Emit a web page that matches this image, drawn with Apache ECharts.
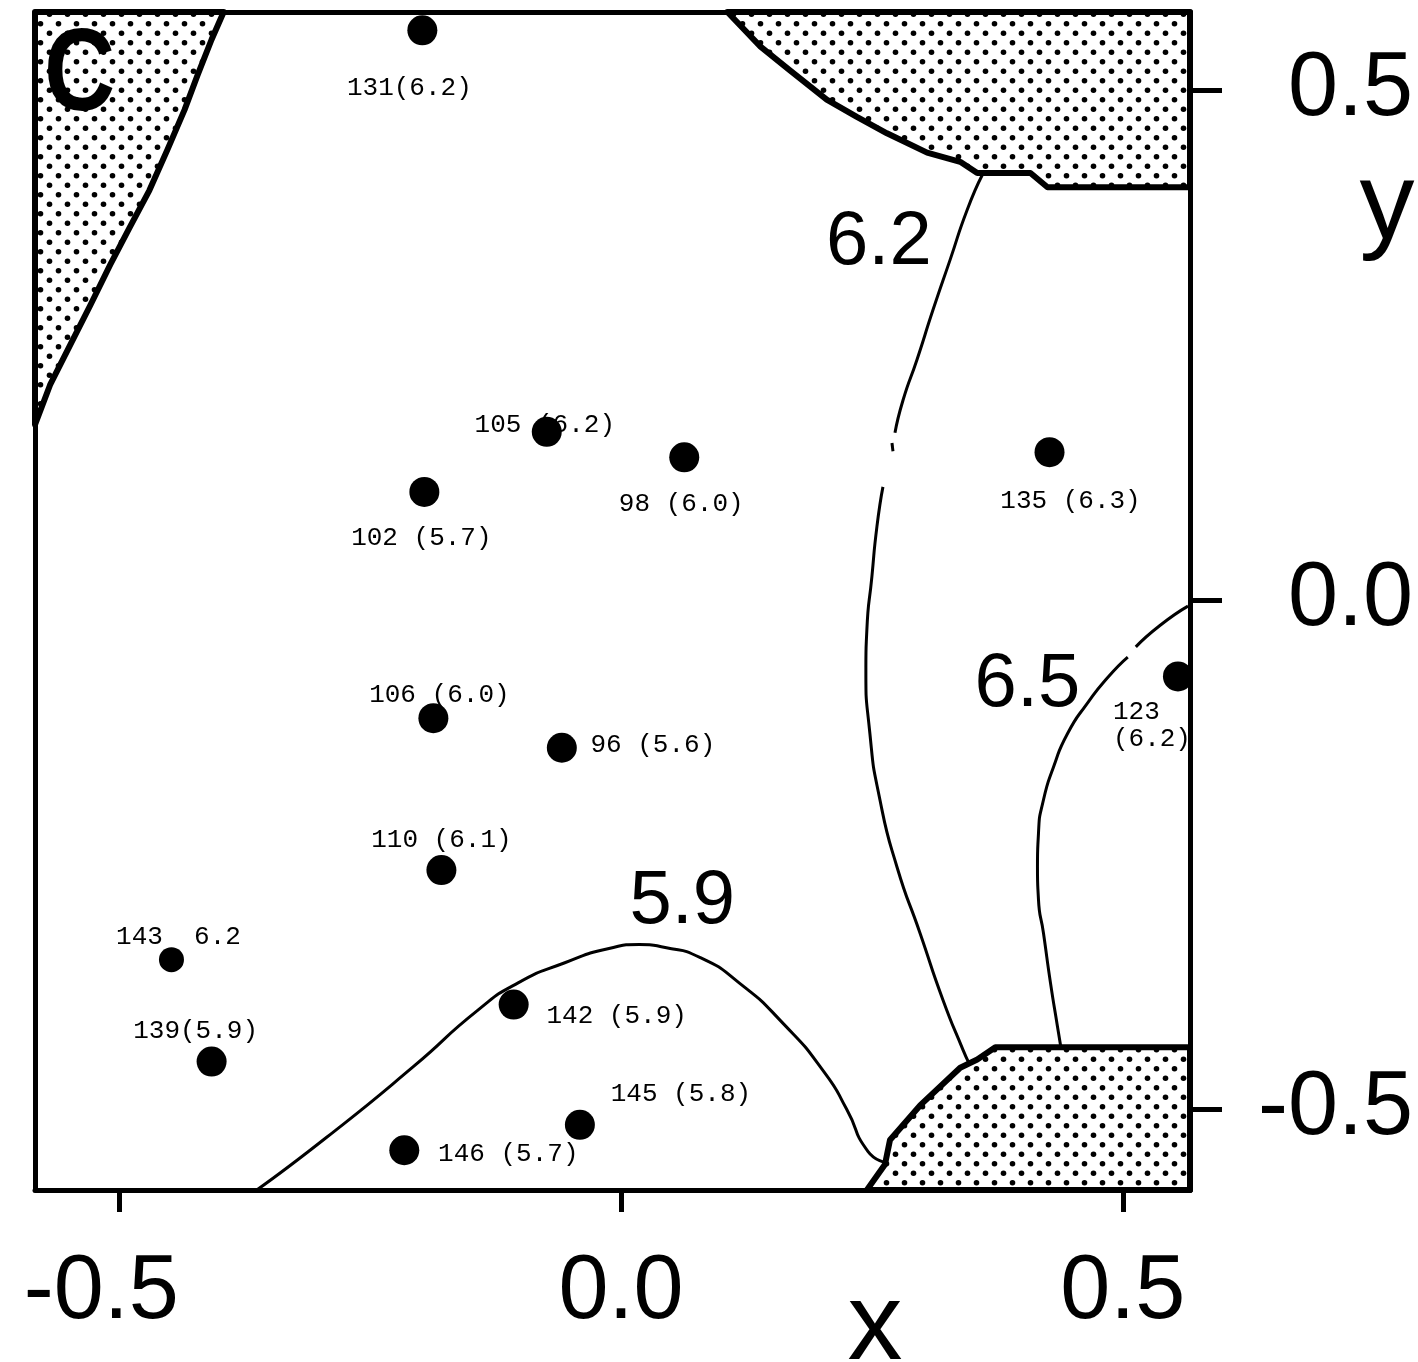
<!DOCTYPE html>
<html><head><meta charset="utf-8">
<script src="https://cdn.jsdelivr.net/npm/echarts@6/dist/echarts.min.js"></script>
<style>html,body{margin:0;padding:0;background:#fff}#c{width:1418px;height:1362px}</style>
</head><body><div id="c"></div><script>
// ---- axes ----
const xRange = [-0.584, 0.567];
const yRange = [-0.579, 0.577];
const xTicks = [-0.5, 0.0, 0.5];
const yTicks = [-0.5, 0.0, 0.5];

// ---- sample points ----
const pointIds = ['131','105','98','102','135','123','106','96','110','143','139','142','145','146'];
const pointValues = [6.2, 6.2, 6.0, 5.7, 6.3, 6.2, 6.0, 5.6, 6.1, 6.2, 5.9, 5.9, 5.8, 5.7];
const pointX = [-0.198, -0.074, 0.063, -0.196, 0.427, 0.555, -0.187, -0.059, -0.179, -0.448, -0.408, -0.107, -0.041, -0.216];
const pointY = [0.559, 0.165, 0.140, 0.106, 0.145, -0.075, -0.116, -0.145, -0.265, -0.353, -0.453, -0.397, -0.515, -0.540];
const pointLabels = ['131(6.2)', '105 (6.2)', '98 (6.0)', '102 (5.7)', '135 (6.3)', '123\n(6.2)', '106 (6.0)', '96 (5.6)', '110 (6.1)', '143  6.2', '139(5.9)', '142 (5.9)', '145 (5.8)', '146 (5.7)'];

// ---- contour lines ----
const contour59 = [[-0.363,-0.579],[-0.293,-0.527],[-0.207,-0.458],[-0.142,-0.402],[-0.103,-0.376],[-0.056,-0.356],[-0.012,-0.342],[0.018,-0.338],[0.044,-0.341],[0.079,-0.351],[0.118,-0.376],[0.161,-0.415],[0.203,-0.464],[0.225,-0.500],[0.246,-0.541],[0.264,-0.552]];
const contour62a = [[0.360,0.417],[0.345,0.383],[0.328,0.334],[0.311,0.285],[0.295,0.236],[0.281,0.196],[0.273,0.164]];
const contour62dash = [[0.270,0.154],[0.271,0.146]];
const contour62b = [[0.261,0.111],[0.255,0.072],[0.250,0.023],[0.245,-0.029],[0.244,-0.066],[0.248,-0.131],[0.258,-0.196],[0.275,-0.262],[0.298,-0.327],[0.321,-0.393],[0.341,-0.442],[0.346,-0.453]];
const contour65a = [[0.565,-0.006],[0.537,-0.025],[0.513,-0.046]];
const contour65b = [[0.505,-0.056],[0.485,-0.076],[0.465,-0.101],[0.445,-0.131],[0.431,-0.164],[0.421,-0.196],[0.416,-0.229],[0.415,-0.262],[0.416,-0.294],[0.421,-0.327],[0.428,-0.376],[0.435,-0.419],[0.438,-0.437]];
const contourLevels = ['6.2', '6.5', '5.9'];
const contourLabelAt = [[0.257, 0.350], [0.405, -0.083], [0.061, -0.296]];

// ---- stippled regions ----
const regionTopLeft = [[-0.584,0.577],[-0.396,0.577],[-0.408,0.550],[-0.422,0.515],[-0.435,0.481],[-0.452,0.442],[-0.470,0.402],[-0.490,0.365],[-0.509,0.329],[-0.529,0.289],[-0.549,0.250],[-0.569,0.211],[-0.584,0.172]];
const regionTopRight = [[0.106,0.577],[0.139,0.543],[0.168,0.520],[0.205,0.491],[0.235,0.474],[0.265,0.458],[0.305,0.439],[0.338,0.430],[0.355,0.419],[0.408,0.419],[0.425,0.405],[0.567,0.405],[0.567,0.577]];
const regionBottomRight = [[0.245,-0.579],[0.263,-0.554],[0.268,-0.530],[0.298,-0.496],[0.338,-0.459],[0.355,-0.451],[0.373,-0.439],[0.567,-0.439],[0.567,-0.579]];

// ---- layout of point labels (pixel offsets from dot centre) ----
const labelOffsets = [[-13,58],[-2,-7],[-3,47],[-3,46],[21,49],[-65,49],[6,-23],[91,-3],[0,-30],[7,-23],[-16,-30],[103,12],[101,-31],[104,4]];
const leftAlignedLabels = ['123'];
const smallDots = ['143'];

// stipple pattern
const pc = document.createElement('canvas');
pc.width = 18; pc.height = 19;
const g = pc.getContext('2d');
g.fillStyle = '#fff'; g.fillRect(0,0,18,19);
g.fillStyle = '#000';
[[4.5,4.75],[13.5,14.25]].forEach(p => { g.beginPath(); g.arc(p[0], p[1], 2.8, 0, Math.PI*2); g.fill(); });
const stipple = {image: pc, repeat: 'repeat'};

const chart = echarts.init(document.getElementById('c'), null, {renderer: 'canvas'});

function regionSeries(name, pts) {
  return {
    type: 'custom', name: name, coordinateSystem: 'cartesian2d', z: 1, silent: true,
    data: pts, encode: {x: 0, y: 1},
    renderItem: function (params, api) {
      if (params.dataIndex !== 0) return null;
      return {
        type: 'polygon',
        shape: {points: pts.map(p => api.coord(p))},
        style: {fill: stipple, stroke: '#000', lineWidth: 6, lineJoin: 'round'}
      };
    }
  };
}
function contourSeries(name, pts) {
  return {
    type: 'line', name: name, data: pts, smooth: 0.6, showSymbol: false, symbol: 'none',
    z: 2, silent: true, clip: false,
    lineStyle: {color: '#000', width: 3, opacity: 1}
  };
}

const pointData = pointX.map((x, i) => ({
  value: [x, pointY[i], pointValues[i]],
  name: pointIds[i],
  symbolSize: smallDots.includes(pointIds[i]) ? 25 : 30,
  label: {
    formatter: pointLabels[i],
    offset: labelOffsets[i],
    align: leftAlignedLabels.includes(pointIds[i]) ? 'left' : 'center'
  }
}));

const tickFont = {fontFamily: 'Liberation Sans', fontSize: 90, color: '#000'};
const axisLineStyle = {color: '#000', width: 5};

chart.setOption({
  animation: false,
  backgroundColor: '#fff',
  grid: {left: 35, top: 12, width: 1155, height: 1178, show: false},
  xAxis: [{
    type: 'value', min: xRange[0], max: xRange[1], position: 'bottom', z: 10,
    splitLine: {show: false},
    axisLine: {show: true, onZero: false, lineStyle: axisLineStyle},
    axisTick: {show: true, customValues: xTicks, length: 22, inside: false, lineStyle: {color: '#000', width: 5}},
    axisLabel: {
      customValues: xTicks, margin: 58, ...tickFont,
      formatter: v => v < 0 ? '{n|' + v.toFixed(1) + '}' : v.toFixed(1),
      rich: {n: {...tickFont, padding: [0, 36, 0, 0]}}
    }
  }, {
    type: 'value', min: xRange[0], max: xRange[1], position: 'top', z: 10,
    splitLine: {show: false}, axisTick: {show: false}, axisLabel: {show: false},
    axisLine: {show: true, onZero: false, lineStyle: axisLineStyle}
  }],
  yAxis: [{
    type: 'value', min: yRange[0], max: yRange[1], position: 'right', z: 10,
    splitLine: {show: false},
    axisLine: {show: true, onZero: false, lineStyle: axisLineStyle},
    axisTick: {show: true, customValues: yTicks, length: 32, inside: false, lineStyle: {color: '#000', width: 5}},
    axisLabel: {customValues: yTicks, formatter: v => v.toFixed(1), margin: 223, align: 'right', ...tickFont}
  }, {
    type: 'value', min: yRange[0], max: yRange[1], position: 'left', z: 10,
    splitLine: {show: false}, axisTick: {show: false}, axisLabel: {show: false},
    axisLine: {show: true, onZero: false, lineStyle: axisLineStyle}
  }],
  series: [
    regionSeries('region-top-left', regionTopLeft),
    regionSeries('region-top-right', regionTopRight),
    regionSeries('region-bottom-right', regionBottomRight),
    contourSeries('5.9', contour59),
    contourSeries('6.2', contour62a),
    contourSeries('6.2', contour62dash),
    contourSeries('6.2', contour62b),
    contourSeries('6.5', contour65a),
    contourSeries('6.5', contour65b),
    {
      type: 'scatter', name: 'contour labels', z: 3, silent: true,
      data: contourLabelAt.map((p, i) => ({value: p, name: contourLevels[i]})),
      symbolSize: 1, itemStyle: {color: '#fff', opacity: 1},
      label: {show: true, position: 'inside', formatter: '{b}', fontFamily: 'Liberation Sans', fontSize: 76, color: '#000', opacity: 1}
    },
    {
      type: 'scatter', name: 'point labels', z: 4, silent: true,
      data: pointData.map(d => ({value: d.value, name: d.name, label: d.label})),
      symbolSize: 1, itemStyle: {color: '#fff', opacity: 1},
      label: {show: true, position: 'inside', fontFamily: 'Liberation Mono', fontSize: 26, lineHeight: 27, color: '#000', opacity: 1}
    },
    {
      type: 'scatter', name: 'samples', z: 5, silent: true, clip: false,
      data: pointData.map(d => ({value: d.value, name: d.name, symbolSize: d.symbolSize})),
      itemStyle: {color: '#000', opacity: 1}
    }
  ],
  graphic: [
    {type: 'text', x: 44, y: 20, scaleX: 0.85, z: 20, style: {text: 'C', font: 'bold 116px "Liberation Sans"', fill: '#000'}},
    {type: 'text', x: 875, y: 1329, z: 20, style: {text: 'x', font: '110px "Liberation Sans"', fill: '#000', align: 'center', verticalAlign: 'middle'}},
    {type: 'text', x: 1387, y: 208, z: 20, style: {text: 'y', font: '110px "Liberation Sans"', fill: '#000', align: 'center', verticalAlign: 'middle'}}
  ]
});
</script></body></html>
